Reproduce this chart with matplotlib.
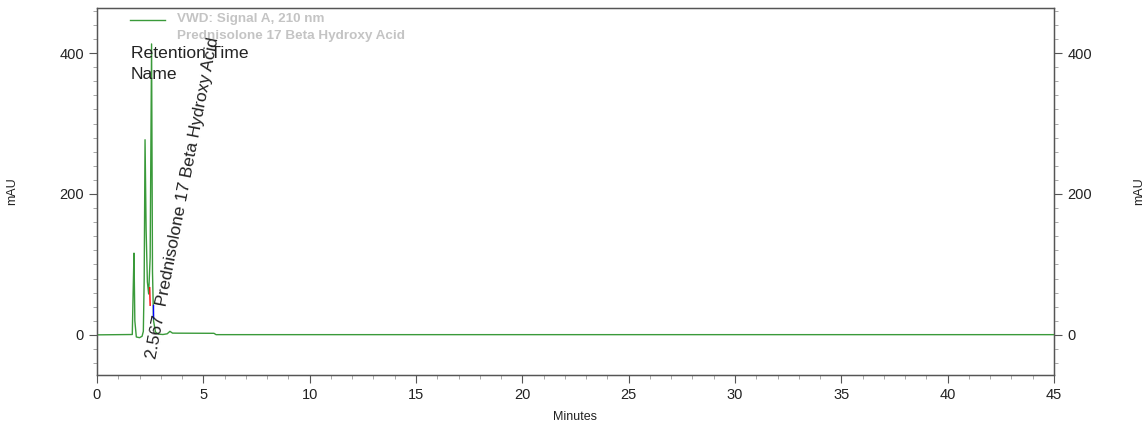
import matplotlib
matplotlib.use("Agg")
import matplotlib.pyplot as plt
import numpy as np

plt.rcParams['font.family'] = ['Liberation Sans', 'DejaVu Sans']

# chromatogram trace (minutes, mAU)
time_min = [0.0, 1.66, 1.70, 1.74, 1.78, 1.85, 2.00, 2.12, 2.18, 2.22, 2.26,
            2.31, 2.37, 2.43, 2.50, 2.567, 2.61, 2.66, 2.75, 2.90, 3.10,
            3.30, 3.43, 3.55, 3.80, 5.50, 5.60, 45.0]
signal_mau = [0.0, 0.5, 60, 116, 20, -3, -4, -2, 5, 80, 277,
              150, 75, 58, 110, 413, 90, 20, 4, 1, 0.5,
              1.5, 5, 2.5, 2.4, 2.2, 0.3, 0.3]

# integration markers around the named peak
start_mark_t = [2.48, 2.50]
start_mark_y = [67, 42]
end_mark_t = [2.62, 2.62]
end_mark_y = [42, 24]

peak_rt = 2.567
peak_name = "Prednisolone 17 Beta Hydroxy Acid"

x_major = list(range(0, 46, 5))
y_major = [0, 200, 400]

TRACE = '#3a9a3a'
AXCOL = '#555555'
TXT = '#222222'

fig = plt.figure(figsize=(11.45, 4.28), dpi=100)
ax = fig.add_axes([0.0847, 0.1238, 0.8358, 0.8575])

ax.plot(time_min, signal_mau, color=TRACE, lw=1.0, zorder=3)
ax.plot(start_mark_t, start_mark_y, color='red', lw=1.0, zorder=4)
ax.plot(end_mark_t, end_mark_y, color='blue', lw=1.0, zorder=4)

ax.set_xlim(0, 45)
ax.set_ylim(-57, 464)
ax.set_xticks(x_major)
ax.set_xticks(np.arange(0, 46, 1), minor=True)
ax.set_yticks(y_major)
ax.set_yticks(np.arange(-40, 461, 20), minor=True)

for sp in ax.spines.values():
    sp.set_color(AXCOL)
    sp.set_linewidth(1.0)

ax.tick_params(axis='both', which='major', direction='out', length=6,
               color=AXCOL, labelsize=10.5, labelcolor=TXT)
ax.tick_params(axis='both', which='minor', direction='out', length=3,
               color='#999999')
ax.set_xlabel('Minutes', fontsize=9, color=TXT, labelpad=6)
ax.set_ylabel('mAU', fontsize=9, color=TXT)
ax.yaxis.set_label_coords(-0.0825, 0.5)

ax2 = ax.twinx()
ax2.set_ylim(ax.get_ylim())
ax2.set_yticks(y_major)
ax2.set_yticks(np.arange(-40, 461, 20), minor=True)
ax2.tick_params(axis='y', which='major', direction='out', length=6,
                color=AXCOL, labelsize=10.5, labelcolor=TXT)
ax2.tick_params(axis='y', which='minor', direction='out', length=3,
                color='#999999')
ax2.set_ylabel('mAU', fontsize=9, color=TXT, rotation=90)
ax2.yaxis.set_label_coords(1.0826, 0.5)
for sp in ax2.spines.values():
    sp.set_color(AXCOL)

# legend-like header
ax.plot([0.035, 0.071], [0.967, 0.967], color=TRACE, lw=1.0,
        transform=ax.transAxes)
ax.text(0.0836, 0.971, "VWD: Signal A, 210 nm", transform=ax.transAxes,
        fontsize=9.7, fontweight='bold', color='#c4c4c4', ha='left', va='center')
ax.text(0.0836, 0.924, peak_name, transform=ax.transAxes,
        fontsize=9.7, fontweight='bold', color='#c4c4c4', ha='left', va='center')
ax.text(0.0355, 0.875, "Retention Time", transform=ax.transAxes,
        fontsize=12.6, color=TXT, ha='left', va='center')
ax.text(0.0355, 0.818, "Name", transform=ax.transAxes,
        fontsize=12.6, color=TXT, ha='left', va='center')

# peak annotation
ax.text(peak_rt - 0.02, -33, f"{peak_rt:.3f}  {peak_name}", rotation=79,
        rotation_mode='anchor', ha='left', va='center', fontsize=12.6,
        color=TXT, zorder=5)

fig.savefig("out.png", dpi=100)
